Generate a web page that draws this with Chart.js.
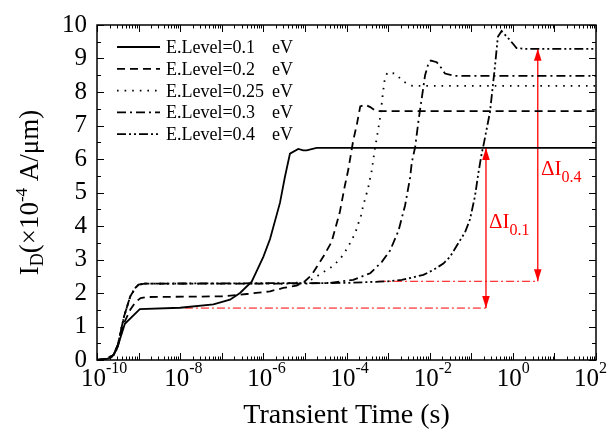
<!DOCTYPE html>
<html><head><meta charset="utf-8">
<script src="https://cdn.jsdelivr.net/npm/chart.js"></script>
<style>html,body{margin:0;padding:0;background:#fff;overflow:hidden}#wrap{width:609px;height:437px}</style>
</head><body><div id="wrap"><canvas id="c" width="609" height="437"></canvas></div>
<script>
// ---------------- data ----------------
const legendLabels = ['E.Level=0.1', 'E.Level=0.2', 'E.Level=0.25', 'E.Level=0.3', 'E.Level=0.4'];
const legendUnit = 'eV';

const time01 = [1e-10, 1.58e-10, 2.24e-10, 2.95e-10, 4.68e-10, 1.07e-9, 1e-8, 6.31e-8, 1.58e-7, 2.75e-7, 5.25e-7, 1e-6, 1.45e-6, 2.51e-6, 3.31e-6, 4.37e-6, 6.92e-6, 9.12e-6, 1.1e-5, 1.91e-5, 1e2];
const id01   = [0, 0.02, 0.08, 0.3, 1.08, 1.52, 1.56, 1.66, 1.8, 2.0, 2.34, 3.08, 3.61, 4.69, 5.47, 6.16, 6.3, 6.26, 6.26, 6.33, 6.33];

const time02 = [1e-10, 1.58e-10, 2.51e-10, 3.16e-10, 4.47e-10, 6.31e-10, 8.32e-10, 1.12e-9, 1.58e-9, 1e-7, 3.98e-7, 1.45e-6, 3.02e-6, 6.31e-6, 1e-5, 1.45e-5, 2.75e-5, 4.37e-5, 6.92e-5, 9.12e-5, 1.1e-4, 1.45e-4, 1.78e-4, 2.14e-4, 2.82e-4, 3.72e-4, 5.13e-4, 1e2];
const id02   = [0, 0.03, 0.15, 0.4, 1.1, 1.5, 1.72, 1.85, 1.88, 1.9, 1.97, 2.05, 2.15, 2.22, 2.35, 2.54, 3.08, 3.52, 4.42, 5.2, 5.67, 6.55, 7.04, 7.57, 7.62, 7.55, 7.43, 7.43];

const time025 = [1e-10, 1.58e-10, 2.51e-10, 3.16e-10, 4.47e-10, 6.31e-10, 8.32e-10, 1e-9, 1.41e-9, 3.16e-6, 1e-5, 1.58e-5, 2.51e-5, 4.17e-5, 6.92e-5, 9.77e-5, 1.29e-4, 1.62e-4, 1.91e-4, 2.24e-4, 2.51e-4, 3.31e-4, 4.07e-4, 4.68e-4, 5.5e-4, 6.46e-4, 7.24e-4, 8.13e-4, 9.55e-4, 1.48e-3, 2.34e-3, 3.89e-3, 1e2];
const id025   = [0, 0.03, 0.15, 0.45, 1.3, 1.9, 2.15, 2.25, 2.28, 2.28, 2.33, 2.42, 2.59, 2.76, 3.0, 3.28, 3.54, 3.79, 4.06, 4.32, 4.6, 5.13, 5.67, 6.21, 6.72, 7.25, 7.79, 8.31, 8.58, 8.55, 8.31, 8.18, 8.18];

const time03 = [1e-10, 1.58e-10, 2.51e-10, 3.16e-10, 4.47e-10, 6.31e-10, 8.32e-10, 1e-9, 1.41e-9, 1e-5, 3.98e-5, 1.45e-4, 3.72e-4, 7.08e-4, 1.12e-3, 1.78e-3, 2.57e-3, 3.39e-3, 3.72e-3, 4.47e-3, 5.37e-3, 6.46e-3, 7.76e-3, 9.33e-3, 1.07e-2, 1.48e-2, 1.95e-2, 2.34e-2, 3.98e-2, 1e2];
const id03   = [0, 0.03, 0.15, 0.45, 1.3, 1.9, 2.15, 2.25, 2.28, 2.28, 2.3, 2.39, 2.59, 2.93, 3.27, 3.86, 4.62, 5.45, 5.9, 6.35, 7.13, 7.82, 8.5, 8.85, 8.94, 8.89, 8.7, 8.55, 8.48, 8.48];

const time04 = [1e-10, 1.58e-10, 2.51e-10, 3.16e-10, 4.47e-10, 6.31e-10, 8.32e-10, 1e-9, 1.41e-9, 1e-4, 1e-3, 2.14e-3, 7.08e-3, 1.23e-2, 2.14e-2, 3.09e-2, 5.37e-2, 7.08e-2, 9.33e-2, 0.123, 0.148, 0.178, 0.2, 0.282, 0.372, 0.437, 0.537, 0.851, 1.23, 2.0, 1e2];
const id04   = [0, 0.03, 0.15, 0.45, 1.3, 1.9, 2.15, 2.25, 2.28, 2.3, 2.35, 2.39, 2.54, 2.69, 2.88, 3.08, 3.57, 3.81, 4.2, 4.89, 5.57, 6.16, 6.45, 7.4, 8.77, 9.65, 9.82, 9.55, 9.31, 9.29, 9.29];

// red reference lines and arrows
const refLowTime  = [1.3e-8, 0.226];
const refLowI     = [1.55, 1.55];
const refHighTime = [5.75e-4, 3.98];
const refHighI    = [2.35, 2.35];
const arrow01Time = [0.226, 0.226];
const arrow01I    = [1.55, 6.33];
const arrow04Time = [3.98, 3.98];
const arrow04I    = [2.35, 9.29];
const deltaLabels = ['0.1', '0.4'];
const deltaLabelTime = [0.267, 4.77];
const deltaLabelI    = [3.95, 5.53];

// axes
const xTickExponents = [-10, -8, -6, -4, -2, 0, 2];
const yTickValues = [0, 1, 2, 3, 4, 5, 6, 7, 8, 9, 10];
const xTitle = 'Transient Time (s)';

// ---------------- chart ----------------
const FONT = '"Liberation Serif", "Times New Roman", serif';
const pts = (t, v) => t.map((x, i) => ({x: x, y: v[i]}));
const curve = (label, t, v, dash) => ({
  label, data: pts(t, v), borderColor: '#000', borderWidth: 1.8, borderDash: dash,
  borderCapStyle: 'butt', pointRadius: 0, tension: 0, fill: false
});
const red = (t, v, dash, w) => ({
  label: '', data: pts(t, v), borderColor: '#ff0000', borderWidth: w, borderDash: dash,
  pointRadius: 0, tension: 0, fill: false
});

const datasets = [
  curve(legendLabels[0], time01, id01, []),
  curve(legendLabels[1], time02, id02, [8, 5]),
  curve(legendLabels[2], time025, id025, [1.6, 6]),
  curve(legendLabels[3], time03, id03, [9, 4, 2, 4]),
  curve(legendLabels[4], time04, id04, [9, 3, 2, 3, 2, 3]),
  red(refLowTime, refLowI, [8, 3, 2, 3], 1),
  red(refHighTime, refHighI, [8, 3, 2, 3], 1),
  red(arrow01Time, arrow01I, [], 1.3),
  red(arrow04Time, arrow04I, [], 1.3)
];

function txtRuns(ctx, runs, x, y) {
  let cx = x;
  for (const r of runs) {
    ctx.font = r.size + 'px ' + FONT;
    ctx.fillText(r.t, cx, y + (r.dy || 0));
    cx += ctx.measureText(r.t).width;
  }
  return cx - x;
}
function runsWidth(ctx, runs) {
  let w = 0;
  for (const r of runs) { ctx.font = r.size + 'px ' + FONT; w += ctx.measureText(r.t).width; }
  return w;
}

const deco = {
  id: 'deco',
  afterDatasetsDraw(chart) {
    const {ctx, chartArea: a, scales: {x, y}} = chart;
    ctx.save();
    ctx.setLineDash([]);
    // arrow heads
    ctx.fillStyle = '#ff0000';
    const head = (px, py, dir) => { // dir -1 up, +1 down
      ctx.beginPath();
      ctx.moveTo(px, py);
      ctx.lineTo(px - 3.8, py - dir * 12);
      ctx.lineTo(px + 3.8, py - dir * 12);
      ctx.closePath(); ctx.fill();
    };
    [[arrow01Time, arrow01I], [arrow04Time, arrow04I]].forEach(([t, v]) => {
      const px = x.getPixelForValue(t[0]);
      head(px, y.getPixelForValue(v[1]), -1);
      head(px, y.getPixelForValue(v[0]), 1);
    });
    // delta labels
    ctx.textBaseline = 'alphabetic'; ctx.textAlign = 'left';
    deltaLabels.forEach((s, i) => {
      const px = x.getPixelForValue(deltaLabelTime[i]);
      const py = y.getPixelForValue(deltaLabelI[i]);
      txtRuns(ctx, [{t: '\u0394I', size: 21}, {t: s, size: 16, dy: 7}], px, py);
    });

    // frame
    ctx.strokeStyle = '#000';
    ctx.lineWidth = 1.5;
    ctx.strokeRect(a.left, a.top, a.right - a.left, a.bottom - a.top);
    // x ticks (inward, top and bottom)
    ctx.lineWidth = 1;
    ctx.beginPath();
    for (let e = -10; e <= 2; e++) {
      for (let m = 1; m <= 9; m++) {
        if (e === 2 && m > 1) break;
        const v = m * Math.pow(10, e);
        const px = Math.round(x.getPixelForValue(v)) + 0.5;
        const L = m === 1 ? 7 : 3.5;
        ctx.moveTo(px, a.bottom); ctx.lineTo(px, a.bottom - L);
        ctx.moveTo(px, a.top); ctx.lineTo(px, a.top + L);
      }
    }
    // y ticks (inward, left and right)
    for (let k = 0; k <= 20; k++) {
      const v = k / 2;
      const py = Math.round(y.getPixelForValue(v)) + 0.5;
      const L = k % 2 === 0 ? 7 : 4;
      ctx.moveTo(a.left, py); ctx.lineTo(a.left + L, py);
      ctx.moveTo(a.right, py); ctx.lineTo(a.right - L, py);
    }
    ctx.stroke();

    // x tick labels 10^n
    ctx.fillStyle = '#000';
    xTickExponents.forEach(e => {
      const px = x.getPixelForValue(Math.pow(10, e));
      const runs = [{t: '10', size: 25}, {t: String(e), size: 16, dy: -13}];
      const w = runsWidth(ctx, runs);
      let sx = px - 16;
      if (sx + w > 607) sx = 607 - w;
      txtRuns(ctx, runs, sx, 386);
    });
    // x title
    ctx.font = '28px ' + FONT;
    ctx.textAlign = 'center';
    ctx.fillText(xTitle, (a.left + a.right) / 2, 423);
    ctx.textAlign = 'left';
    // y title (rotated)
    ctx.save();
    ctx.translate(38, (a.top + a.bottom) / 2);
    ctx.rotate(-Math.PI / 2);
    const yRuns = [{t: 'I', size: 27}, {t: 'D', size: 18, dy: 5}, {t: '(\u00D710', size: 27},
                   {t: '-4', size: 17, dy: -11}, {t: ' A/\u03BCm)', size: 27}];
    const yw = runsWidth(ctx, yRuns);
    txtRuns(ctx, yRuns, -yw / 2, 0);
    ctx.restore();

    // legend
    const lx0 = 117, lx1 = 160, tx = 166, ux = 272, ly0 = 47, dy = 21.8;
    for (let i = 0; i < 5; i++) {
      const ds = chart.data.datasets[i];
      const ly = ly0 + i * dy;
      ctx.strokeStyle = '#000';
      ctx.lineWidth = ds.borderWidth;
      ctx.setLineDash(ds.borderDash);
      ctx.beginPath(); ctx.moveTo(lx0, ly); ctx.lineTo(lx1, ly); ctx.stroke();
      ctx.setLineDash([]);
      ctx.font = '18px ' + FONT;
      ctx.fillStyle = '#000';
      ctx.fillText(ds.label, tx, ly + 6);
      ctx.fillText(legendUnit, ux, ly + 6);
    }
    ctx.restore();
  }
};

new Chart(document.getElementById('c'), {
  type: 'line',
  data: {datasets},
  plugins: [deco],
  options: {
    responsive: false, animation: false, devicePixelRatio: 1,
    layout: {padding: {top: 18, right: 13, left: 0, bottom: 0}},
    plugins: {legend: {display: false}, tooltip: {enabled: false}},
    scales: {
      x: {
        type: 'logarithmic', min: 1e-10, max: 1e2,
        grid: {display: false, drawTicks: false}, border: {display: false},
        ticks: {display: false},
        afterFit(s) { s.height = 77; }
      },
      y: {
        type: 'linear', min: 0, max: 10,
        grid: {display: false, drawTicks: false}, border: {display: false},
        ticks: {
          stepSize: 1, autoSkip: false, padding: 10, color: '#000',
          font: {family: FONT, size: 25},
          callback: v => yTickValues.includes(v) ? String(v) : ''
        },
        afterFit(s) { s.width = 97; }
      }
    }
  }
});
</script>
</body></html>
